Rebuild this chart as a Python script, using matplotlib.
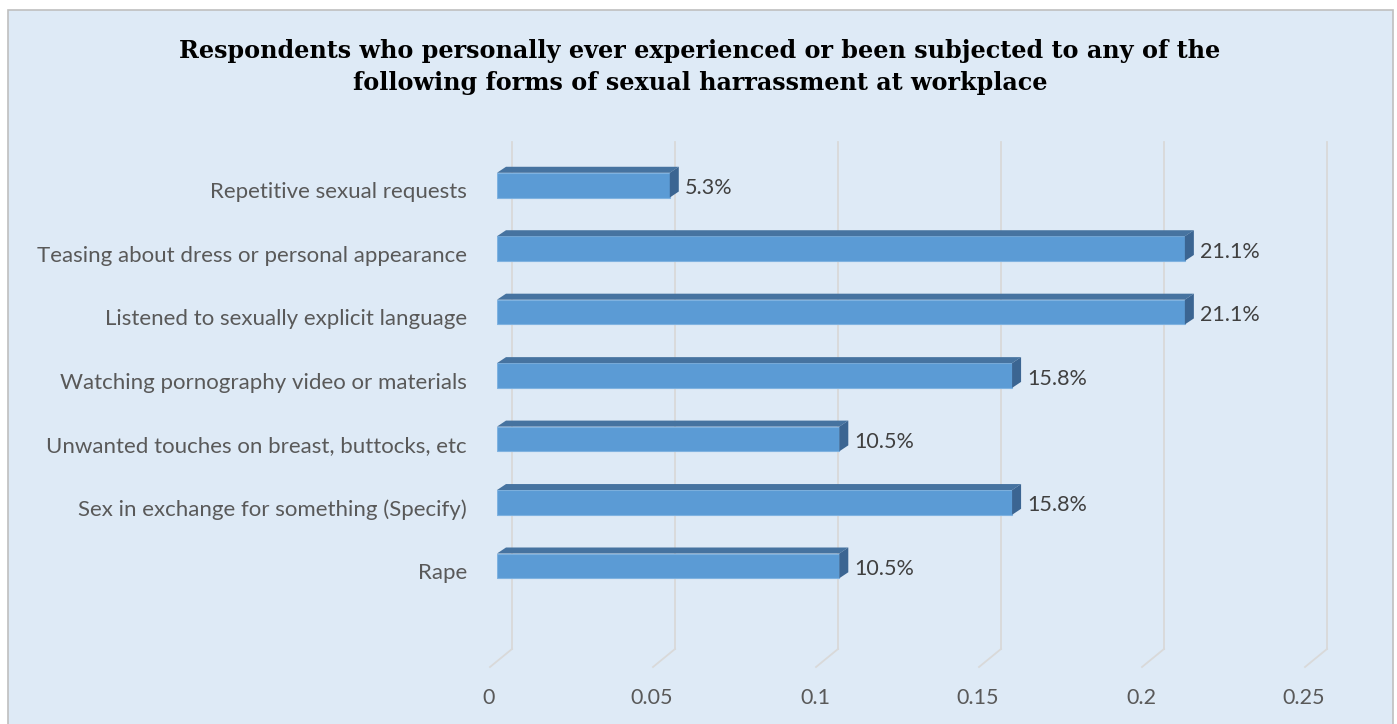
import matplotlib
matplotlib.use("Agg")
import matplotlib.pyplot as plt
from matplotlib.patches import Polygon, Rectangle
from matplotlib.transforms import offset_copy, IdentityTransform

# donnees du graphique (de bas en haut)
categories = [
    "Rape",
    "Sex in exchange for something (Specify)",
    "Unwanted touches on breast, buttocks, etc",
    "Watching pornography video or materials",
    "Listened to sexually explicit language",
    "Teasing about dress or personal appearance",
    "Repetitive sexual requests",
]
valeurs = [0.105, 0.158, 0.105, 0.158, 0.211, 0.211, 0.053]
etiquettes = ["10.5%", "15.8%", "10.5%", "15.8%", "21.1%", "21.1%", "5.3%"]
graduations = [0, 0.05, 0.1, 0.15, 0.2, 0.25]
titre = ("Respondents who personally ever experienced or been subjected to any of the\n"
         "following forms of sexual harrassment at workplace")

fond = "#DEEAF6"
face = "#5B9BD5"
dessus = "#4673A0"
cote = "#3B6592"
grille = "#D9D9D9"
texte = "#595959"

W, H = 1397, 724
pix = IdentityTransform()
fig = plt.figure(figsize=(W / 100, H / 100), dpi=100)
fig.patch.set_facecolor("white")

# panneau bleu clair du graphique
panneau = Rectangle((8 / W, -0.01), (1393 - 8) / W, (H - 10) / H + 0.01,
                    transform=fig.transFigure, facecolor=fond,
                    edgecolor="#BFBFBF", linewidth=1.2, zorder=-10)
fig.patches.append(panneau)

ax = fig.add_axes([497 / W, (H - 649) / H, 815 / W, 507 / H])
ax.set_facecolor("none")
ax.set_xlim(0, 0.25)
ax.set_ylim(-1.31, 6.68)
for s in ax.spines.values():
    s.set_visible(False)
ax.set_xticks([])
ax.set_yticks([])

y = list(range(len(categories)))
h = 0.39

# grille en perspective (plan du fond + sol)
fond_t = offset_copy(ax.transData, fig=fig, x=15, y=0, units="dots")
for g in graduations:
    ax.plot([g, g], [-1.31, 6.68], color=grille, lw=1.3, transform=fond_t,
            clip_on=False, zorder=1)
    x0, y0 = ax.transData.transform((g, -1.31))
    ax.plot([x0 + 15, x0 - 7], [y0, y0 - 18], color=grille, lw=1.3,
            transform=pix, clip_on=False, zorder=1)
    ax.text(x0 - 8, y0 - 49, f"{g:g}", ha="center", va="center",
            fontsize=15.5, color=texte, family="Lato", transform=pix)

# barres en 3D : face avant + dessus + cote
dx, dy = 9, 6
ax.barh(y, valeurs, height=h, color=face, edgecolor="#7FB2E0",
        linewidth=0.8, zorder=3)
for yi, v, lab in zip(y, valeurs, etiquettes):
    (xa, yb) = ax.transData.transform((0, yi - h / 2))
    (xb, yt) = ax.transData.transform((v, yi + h / 2))
    top = Polygon([(xa, yt), (xb, yt), (xb + dx, yt + dy), (xa + dx, yt + dy)],
                  closed=True, facecolor=dessus, edgecolor="none",
                  transform=pix, zorder=4, clip_on=False)
    side = Polygon([(xb, yb), (xb, yt), (xb + dx, yt + dy), (xb + dx, yb + dy)],
                   closed=True, facecolor=cote, edgecolor="none",
                   transform=pix, zorder=4, clip_on=False)
    ax.add_artist(top)
    ax.add_artist(side)
    ax.text(xb + dx + 6, (yb + yt) / 2 - 3, lab, ha="left", va="center",
            fontsize=15.5, color="#404040", family="Lato", transform=pix)
    ax.text(467, (yb + yt) / 2 - 7, categories[yi], ha="right", va="center",
            fontsize=16, color=texte, family="Lato", transform=pix)

fig.text(700 / W, 1 - 67 / H, titre, ha="center", va="center",
         fontsize=17.2, fontweight="bold", family="DejaVu Serif",
         color="black", linespacing=1.45)

fig.savefig("out.png", dpi=100)
